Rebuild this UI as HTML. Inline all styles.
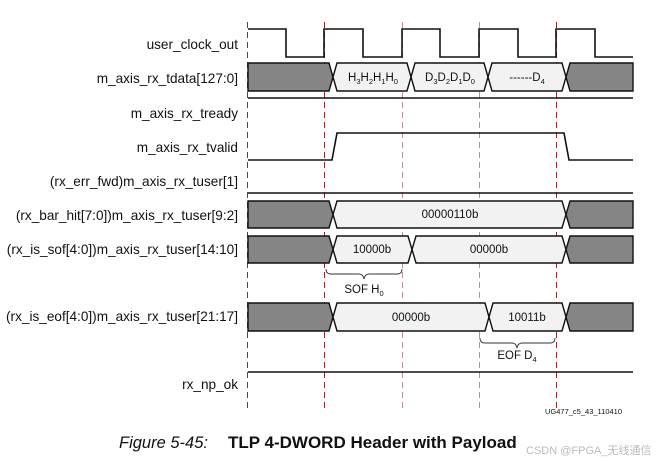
<!DOCTYPE html>
<html><head><meta charset="utf-8"><style>
html,body{margin:0;padding:0;background:#fff;}
svg{display:block;}
text{font-family:"Liberation Sans","Noto Sans CJK SC",sans-serif;fill:#111;}
</style></head><body>
<svg width="665" height="463" viewBox="0 0 665 463" xmlns="http://www.w3.org/2000/svg">
<g font-size="13.6" text-anchor="end">
<text x="238" y="49">user_clock_out</text>
<text x="238" y="83">m_axis_rx_tdata[127:0]</text>
<text x="238" y="118">m_axis_rx_tready</text>
<text x="238" y="152">m_axis_rx_tvalid</text>
<text x="238" y="186">(rx_err_fwd)m_axis_rx_tuser[1]</text>
<text x="238" y="220">(rx_bar_hit[7:0])m_axis_rx_tuser[9:2]</text>
<text x="238" y="254">(rx_is_sof[4:0])m_axis_rx_tuser[14:10]</text>
<text x="238" y="321">(rx_is_eof[4:0])m_axis_rx_tuser[21:17]</text>
<text x="238" y="389">rx_np_ok</text>
</g>
<g stroke-width="1" stroke-dasharray="6,4">
<line x1="247.5" y1="22" x2="247.5" y2="409" stroke="#8b2a2a"/>
<line x1="324.5" y1="22" x2="324.5" y2="409" stroke="#8b2a2a"/>
<line x1="402.5" y1="22" x2="402.5" y2="409" stroke="#b89090"/>
<line x1="479.5" y1="22" x2="479.5" y2="409" stroke="#b89090"/>
<line x1="556.5" y1="22" x2="556.5" y2="409" stroke="#8b2a2a"/>
</g>
<g fill="none" stroke="#111" stroke-width="1.6">
<polyline points="248,29 286,29 286,57 324,57 324,29 363,29 363,57 402,57 402,29 440,29 440,57 479,57 479,29 518,29 518,57 556,57 556,29 595,29 595,57 633,57"/>
<line x1="248" y1="98" x2="633" y2="98"/>
<polyline points="248,160 332,160 337,133 564,133 569,160 633,160"/>
<line x1="248" y1="193" x2="633" y2="193"/>
<line x1="248" y1="372" x2="633" y2="372"/>
</g>
<g stroke="#111" stroke-width="1.4">
<polygon fill="#858585" points="248,63 329,63 333,77 329,91 248,91"/>
<polygon fill="#f2f2f2" points="337,63 407,63 411,77 407,91 337,91 333,77"/>
<polygon fill="#f2f2f2" points="415,63 484,63 488,77 484,91 415,91 411,77"/>
<polygon fill="#f2f2f2" points="492,63 562,63 566,77 562,91 492,91 488,77"/>
<polygon fill="#858585" points="570,63 633,63 633,91 570,91 566,77"/>
<polygon fill="#858585" points="248,201 329,201 333,214.5 329,228 248,228"/>
<polygon fill="#f2f2f2" points="337,201 562,201 566,214.5 562,228 337,228 333,214.5"/>
<polygon fill="#858585" points="570,201 633,201 633,228 570,228 566,214.5"/>
<polygon fill="#858585" points="248,236 329,236 333,249.5 329,263 248,263"/>
<polygon fill="#f2f2f2" points="337,236 408,236 412,249.5 408,263 337,263 333,249.5"/>
<polygon fill="#f2f2f2" points="416,236 562,236 566,249.5 562,263 416,263 412,249.5"/>
<polygon fill="#858585" points="570,236 633,236 633,263 570,263 566,249.5"/>
<polygon fill="#858585" points="248,303 329,303 333,317 329,331 248,331"/>
<polygon fill="#f2f2f2" points="337,303 485,303 489,317 485,331 337,331 333,317"/>
<polygon fill="#f2f2f2" points="493,303 562,303 566,317 562,331 493,331 489,317"/>
<polygon fill="#858585" points="570,303 633,303 633,331 570,331 566,317"/>
</g>
<g font-size="11.5" text-anchor="middle">
<text x="373" y="81">H<tspan font-size="7.5" dy="3">3</tspan><tspan dy="-3">H</tspan><tspan font-size="7.5" dy="3">2</tspan><tspan dy="-3">H</tspan><tspan font-size="7.5" dy="3">1</tspan><tspan dy="-3">H</tspan><tspan font-size="7.5" dy="3">0</tspan></text>
<text x="450" y="81">D<tspan font-size="7.5" dy="3">3</tspan><tspan dy="-3">D</tspan><tspan font-size="7.5" dy="3">2</tspan><tspan dy="-3">D</tspan><tspan font-size="7.5" dy="3">1</tspan><tspan dy="-3">D</tspan><tspan font-size="7.5" dy="3">0</tspan></text>
<text x="527" y="81">------D<tspan font-size="7.5" dy="3">4</tspan></text>
<text x="450" y="218">00000110b</text>
<text x="372" y="253">10000b</text>
<text x="489" y="253">00000b</text>
<text x="411" y="321">00000b</text>
<text x="527" y="321">10011b</text>
<text x="364" y="293">SOF H<tspan font-size="7.5" dy="3">0</tspan></text>
<text x="517" y="359">EOF D<tspan font-size="7.5" dy="3">4</tspan></text>
</g>
<g fill="none" stroke="#333" stroke-width="0.9">
<path d="M326,269 Q326,274 331,274 L359,274 Q363,274 364,279 Q365,274 369,274 L397,274 Q402,274 402,269"/>
<path d="M480,338 Q480,343 485,343 L512,343 Q516,343 517,348 Q518,343 522,343 L550,343 Q555,343 555,338"/>
</g>
<text x="545" y="414" font-size="7.5" fill="#333">UG477_c5_43_110410</text>
<text x="119" y="448" font-size="16.5" font-style="italic">Figure 5-45:</text>
<text x="228" y="448" font-size="17" font-weight="bold">TLP 4-DWORD Header with Payload</text>
<text x="526" y="454" font-size="11" style="fill:#bbb">CSDN @FPGA_无线通信</text>
</svg>
</body></html>
